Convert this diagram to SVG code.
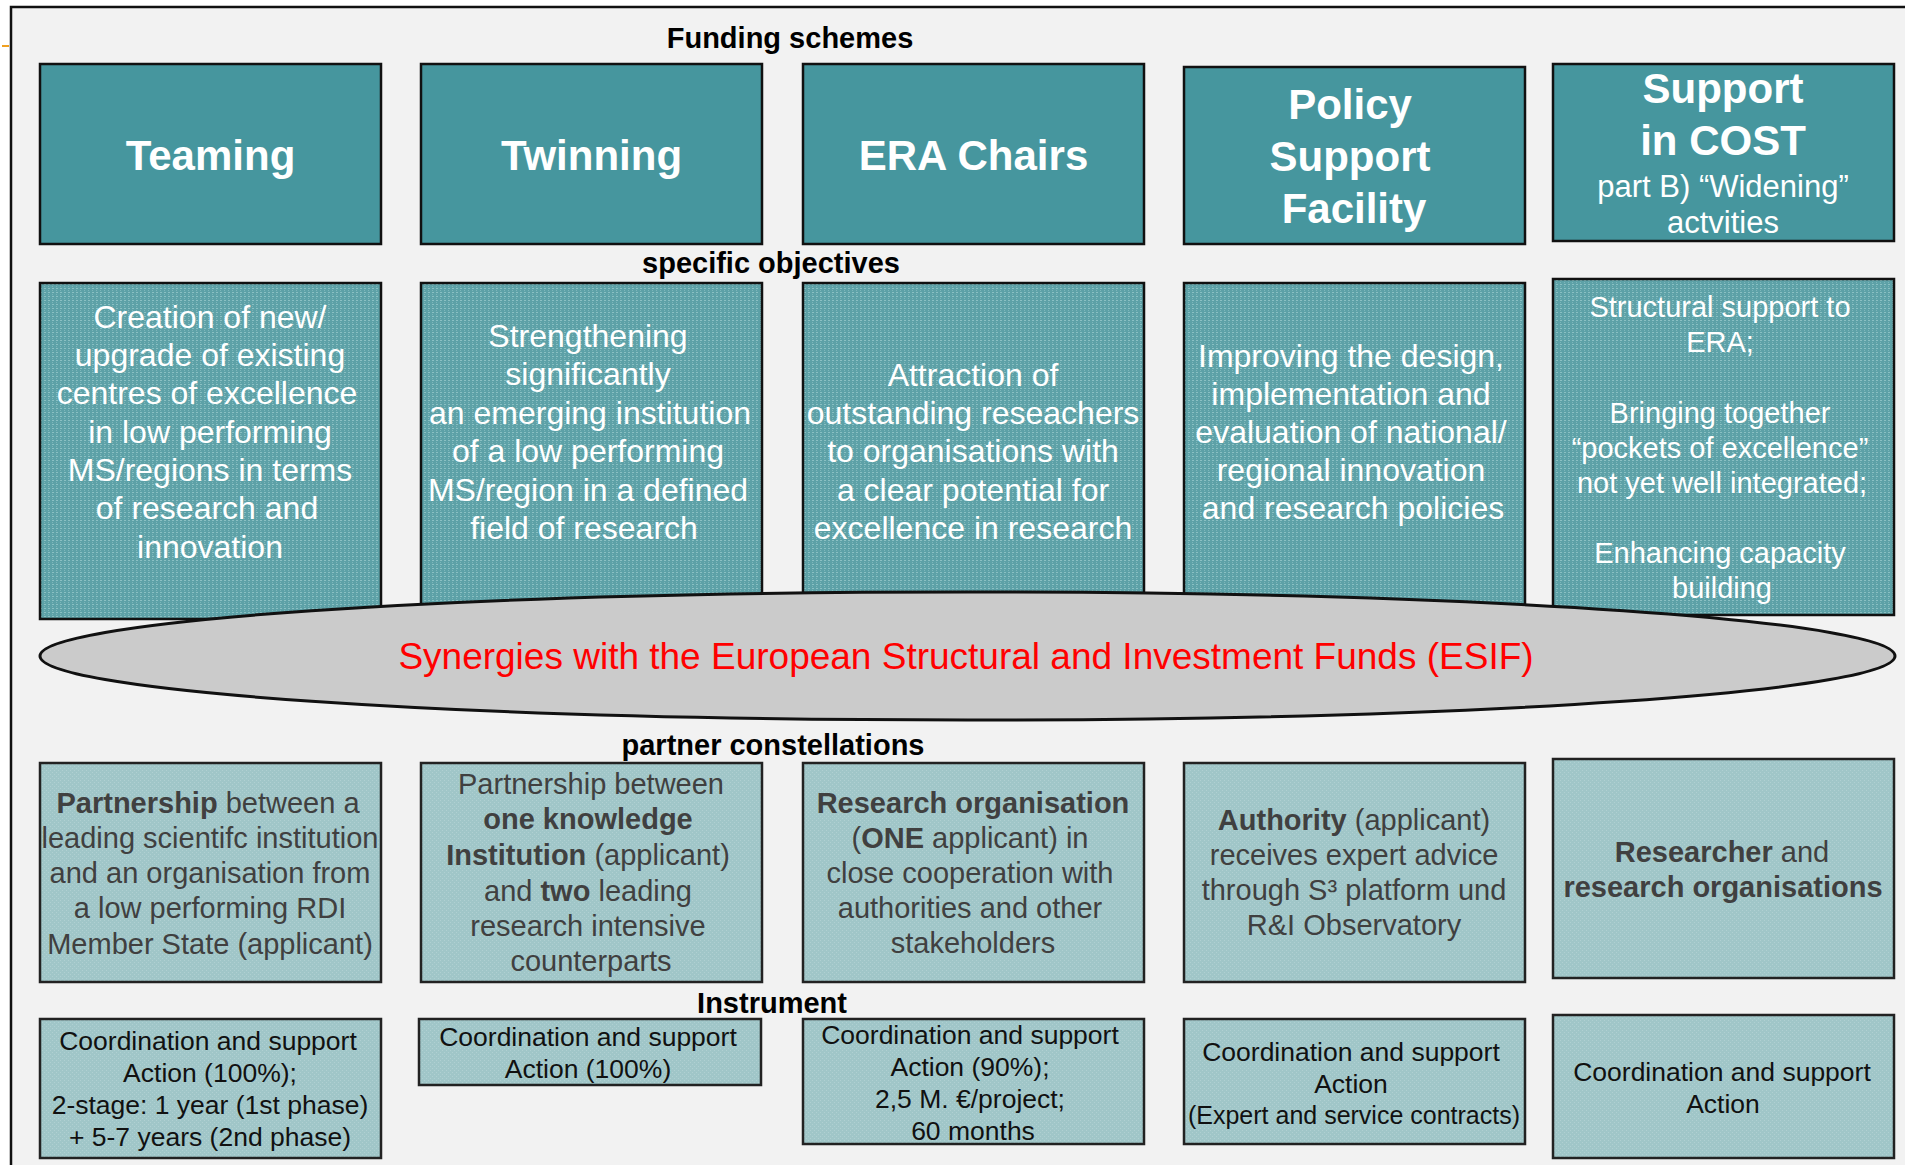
<svg xmlns="http://www.w3.org/2000/svg" width="1905" height="1165" viewBox="0 0 1905 1165">
<defs>
<pattern id="dots" width="4" height="4" patternUnits="userSpaceOnUse">
<rect width="4" height="4" fill="#5da1a7"/>
<rect x="0" y="0" width="2" height="1" fill="#8ac0c3"/>
<rect x="0" y="2" width="1" height="1" fill="#7cb6ba"/>
</pattern>
<pattern id="hatch" width="4" height="4" patternUnits="userSpaceOnUse">
<rect width="4" height="4" fill="#a0c6c8"/>
<rect x="0" y="0" width="1" height="1" fill="#b0d0d2"/>
<rect x="2" y="2" width="1" height="1" fill="#b0d0d2"/>
</pattern>
</defs>
<style>
text{transform:translate(0px,1.2px)}
.hdr{fill:#46969e;stroke:#111;stroke-width:2.5}
.obj{fill:url(#dots);stroke:#111;stroke-width:2.5}
.prt{fill:url(#hatch);stroke:#222;stroke-width:2.5}
.sec{font-family:"Liberation Sans",Arial,sans-serif;font-weight:bold;font-size:29px;fill:#000;text-anchor:middle}
.big{font-family:"Liberation Sans",Arial,sans-serif;font-weight:bold;font-size:42px;fill:#fff;text-anchor:middle}
.sub{font-family:"Liberation Sans",Arial,sans-serif;font-size:31px;fill:#fff;text-anchor:middle}
.ot{font-family:"Liberation Sans",Arial,sans-serif;font-size:32px;fill:#fff;text-anchor:middle}
.ot2{font-family:"Liberation Sans",Arial,sans-serif;font-size:29px;fill:#fff;text-anchor:middle}
.pt{font-family:"Liberation Sans",Arial,sans-serif;font-size:29px;fill:#404040;text-anchor:middle}
.it{font-family:"Liberation Sans",Arial,sans-serif;font-size:26.5px;fill:#111;text-anchor:middle}
.b{font-weight:bold}
</style>
<rect width="1905" height="1165" fill="#fff"/>
<rect x="11" y="7" width="1900" height="1170" fill="#f2f2f2" stroke="#111" stroke-width="2.5"/>
<line x1="2" y1="46" x2="9" y2="46" stroke="#f0a020" stroke-width="2"/>

<g id="labels">
<text class="sec" x="790" y="47">Funding schemes</text>
<text class="sec" x="771" y="272">specific objectives</text>
<text class="sec" x="773" y="754">partner constellations</text>
<text class="sec" x="772" y="1012">Instrument</text>
</g>

<g id="teaming-scheme"><rect class="hdr" x="40" y="64" width="341" height="180"/><text class="big" x="210.5" y="169">Teaming</text></g>
<g id="twinning-scheme"><rect class="hdr" x="421" y="64" width="341" height="180"/><text class="big" x="591.5" y="169">Twinning</text></g>
<g id="era-scheme"><rect class="hdr" x="803" y="64" width="341" height="180"/><text class="big" x="973.5" y="169">ERA Chairs</text></g>
<g id="policy-scheme"><rect class="hdr" x="1184" y="67" width="341" height="177"/><text class="big"><tspan x="1350" y="118">Policy</tspan><tspan x="1350" y="170">Support</tspan><tspan x="1354" y="222">Facility</tspan></text></g>
<g id="cost-scheme"><rect class="hdr" x="1553" y="64" width="341" height="177"/><text class="big"><tspan x="1723" y="102">Support</tspan><tspan x="1723" y="154">in COST</tspan></text><text class="sub"><tspan x="1723" y="196">part B) “Widening”</tspan><tspan x="1723" y="232">actvities</tspan></text></g>

<g id="teaming-objective"><rect class="obj" x="40" y="283" width="341" height="336"/><text class="ot"><tspan x="210" y="327">Creation of new/</tspan><tspan x="210" y="365">upgrade of existing</tspan><tspan x="207" y="403">centres of excellence</tspan><tspan x="210" y="442">in low performing</tspan><tspan x="210" y="480">MS/regions in terms</tspan><tspan x="207" y="518">of research and</tspan><tspan x="210" y="557">innovation</tspan></text></g>
<g id="twinning-objective"><rect class="obj" x="421" y="283" width="341" height="336"/><text class="ot"><tspan x="588" y="346">Strengthening</tspan><tspan x="588" y="384">significantly</tspan><tspan x="590" y="423">an emerging institution</tspan><tspan x="588" y="461">of a low performing</tspan><tspan x="588" y="500">MS/region in a defined</tspan><tspan x="584" y="538">field of research</tspan></text></g>
<g id="era-objective"><rect class="obj" x="803" y="283" width="341" height="336"/><text class="ot"><tspan x="973" y="385">Attraction of</tspan><tspan x="973" y="423">outstanding reseachers</tspan><tspan x="973" y="461">to organisations with</tspan><tspan x="973" y="500">a clear potential for</tspan><tspan x="973" y="538">excellence in research</tspan></text></g>
<g id="policy-objective"><rect class="obj" x="1184" y="283" width="341" height="336"/><text class="ot"><tspan x="1351" y="366">Improving the design,</tspan><tspan x="1351" y="404">implementation and</tspan><tspan x="1351" y="442">evaluation of national/</tspan><tspan x="1351" y="480">regional innovation</tspan><tspan x="1353" y="518">and research policies</tspan></text></g>
<g id="cost-objective"><rect class="obj" x="1553" y="279" width="341" height="336"/><text class="ot2"><tspan x="1720" y="316">Structural support to</tspan><tspan x="1720" y="351">ERA;</tspan><tspan x="1720" y="422">Bringing together</tspan><tspan x="1720" y="457">“pockets of excellence”</tspan><tspan x="1722" y="492">not yet well integrated;</tspan><tspan x="1720" y="562">Enhancing capacity</tspan><tspan x="1722" y="597">building</tspan></text></g>

<g id="esif-synergies"><ellipse cx="967.5" cy="656" rx="927.5" ry="64" fill="#cbcbcb" stroke="#111" stroke-width="3"/><text x="966" y="668" font-family="Liberation Sans, Arial, sans-serif" font-size="37" fill="#ff0000" text-anchor="middle">Synergies with the European Structural and Investment Funds (ESIF)</text></g>

<g id="teaming-partners"><rect class="prt" x="40" y="763" width="341" height="219"/><text class="pt"><tspan x="208" y="812"><tspan class="b">Partnership</tspan> between a</tspan><tspan x="210" y="847">leading scientifc institution</tspan><tspan x="210" y="882">and an organisation from</tspan><tspan x="210" y="917">a low performing RDI</tspan><tspan x="210" y="953">Member State (applicant)</tspan></text></g>
<g id="twinning-partners"><rect class="prt" x="421" y="763" width="341" height="219"/><text class="pt"><tspan x="591" y="793">Partnership between</tspan><tspan x="588" y="828" class="b">one knowledge</tspan><tspan x="588" y="864"><tspan class="b">Institution</tspan> (applicant)</tspan><tspan x="588" y="900">and <tspan class="b">two</tspan> leading</tspan><tspan x="588" y="935">research intensive</tspan><tspan x="591" y="970">counterparts</tspan></text></g>
<g id="era-partners"><rect class="prt" x="803" y="763" width="341" height="219"/><text class="pt"><tspan x="973" y="812" class="b">Research organisation</tspan><tspan x="970" y="847">(<tspan class="b">ONE</tspan> applicant) in</tspan><tspan x="970" y="882">close cooperation with</tspan><tspan x="970" y="917">authorities and other</tspan><tspan x="973" y="952">stakeholders</tspan></text></g>
<g id="policy-partners"><rect class="prt" x="1184" y="763" width="341" height="219"/><text class="pt"><tspan x="1354" y="829"><tspan class="b">Authority</tspan> (applicant)</tspan><tspan x="1354" y="864">receives expert advice</tspan><tspan x="1354" y="899">through S³ platform und</tspan><tspan x="1354" y="934">R&amp;I Observatory</tspan></text></g>
<g id="cost-partners"><rect class="prt" x="1553" y="759" width="341" height="219"/><text class="pt"><tspan x="1722" y="861"><tspan class="b">Researcher</tspan> and</tspan><tspan x="1723" y="896" class="b">research organisations</tspan></text></g>

<g id="teaming-instrument"><rect class="prt" x="40" y="1019" width="341" height="139"/><text class="it"><tspan x="208" y="1049">Coordination and support</tspan><tspan x="210" y="1081">Action (100%);</tspan><tspan x="210" y="1113">2-stage: 1 year (1st phase)</tspan><tspan x="210" y="1145">+ 5-7 years (2nd phase)</tspan></text></g>
<g id="twinning-instrument"><rect class="prt" x="419" y="1019" width="342" height="66"/><text class="it"><tspan x="588" y="1045">Coordination and support</tspan><tspan x="588" y="1077">Action (100%)</tspan></text></g>
<g id="era-instrument"><rect class="prt" x="803" y="1019" width="341" height="125"/><text class="it"><tspan x="970" y="1043">Coordination and support</tspan><tspan x="970" y="1075">Action (90%);</tspan><tspan x="970" y="1107">2,5 M. €/project;</tspan><tspan x="973" y="1139">60 months</tspan></text></g>
<g id="policy-instrument"><rect class="prt" x="1184" y="1019" width="341" height="125"/><text class="it"><tspan x="1351" y="1060">Coordination and support</tspan><tspan x="1351" y="1092">Action</tspan><tspan x="1354" y="1123" font-size="25">(Expert and service contracts)</tspan></text></g>
<g id="cost-instrument"><rect class="prt" x="1553" y="1015" width="341" height="143"/><text class="it"><tspan x="1722" y="1080">Coordination and support</tspan><tspan x="1723" y="1112">Action</tspan></text></g>

<g id="connectors"></g>
</svg>
